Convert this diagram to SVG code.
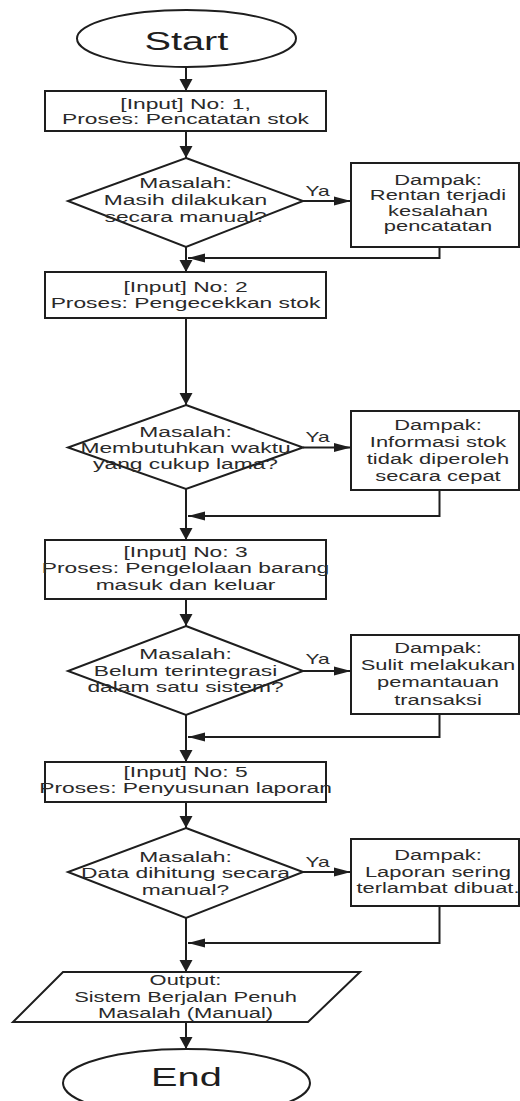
<svg xmlns="http://www.w3.org/2000/svg" width="520" height="1101" viewBox="0 0 520 1101">
<style>
.bg{fill:#ffffff}
.shape{fill:#ffffff;stroke:#1e1e1e;stroke-width:2}
.conn{fill:none;stroke:#1e1e1e;stroke-width:2}
.t{font-family:"Liberation Sans",Arial,sans-serif;font-size:15.2px;fill:#2a2a2a;text-anchor:middle}
.d{font-size:14.6px}
.ya{font-family:"Liberation Sans",Arial,sans-serif;font-size:14px;fill:#2a2a2a;text-anchor:middle}
.big{font-family:"Liberation Sans",Arial,sans-serif;font-size:26.5px;fill:#1e1e1e;text-anchor:middle}
</style>
<defs>
<marker id="av" markerUnits="userSpaceOnUse" markerWidth="12" markerHeight="14" refX="12" refY="7" orient="auto" overflow="visible">
<path d="M0,0.5 L12,7 L0,13.5 z" fill="#1e1e1e"/>
</marker>
<marker id="ah" markerUnits="userSpaceOnUse" markerWidth="17" markerHeight="9" refX="17" refY="4.5" orient="auto" overflow="visible">
<path d="M0,0 L17,4.5 L0,9 z" fill="#1e1e1e"/>
</marker>
</defs>
<rect class="bg" x="0" y="0" width="520" height="1101"/>

<g id="connectors">
<path class="conn" d="M186,67 V91" marker-end="url(#av)"/>
<path class="conn" d="M186,131 V158" marker-end="url(#av)"/>
<path class="conn" d="M303,201 H351" marker-end="url(#ah)"/>
<path class="conn" d="M439.5,247 V258 H188" marker-end="url(#ah)"/>
<path class="conn" d="M186,247 V272" marker-end="url(#av)"/>
<path class="conn" d="M186,318 V405" marker-end="url(#av)"/>
<path class="conn" d="M303,447.5 H351" marker-end="url(#ah)"/>
<path class="conn" d="M439.5,490 V516 H188" marker-end="url(#ah)"/>
<path class="conn" d="M186,489 V540" marker-end="url(#av)"/>
<path class="conn" d="M186,599 V626" marker-end="url(#av)"/>
<path class="conn" d="M303,671 H351" marker-end="url(#ah)"/>
<path class="conn" d="M439.5,714 V737 H188" marker-end="url(#ah)"/>
<path class="conn" d="M186,715 V762" marker-end="url(#av)"/>
<path class="conn" d="M186,802 V828" marker-end="url(#av)"/>
<path class="conn" d="M303,872 H351" marker-end="url(#ah)"/>
<path class="conn" d="M439.5,906 V943 H188" marker-end="url(#ah)"/>
<path class="conn" d="M186,918 V972" marker-end="url(#av)"/>
<path class="conn" d="M186,1022 V1049" marker-end="url(#av)"/>
<g transform="scale(1.5,1)">
<text class="ya" x="211.7" y="196">Ya</text>
<text class="ya" x="211.7" y="442">Ya</text>
<text class="ya" x="211.7" y="664">Ya</text>
<text class="ya" x="211.7" y="867">Ya</text>
</g>
</g>

<g id="start">
<ellipse class="shape" cx="186.5" cy="38.5" rx="109.5" ry="28.5"/>
<text class="big" transform="scale(1.5,1)" x="124.3" y="50">Start</text>
</g>

<g id="box1">
<rect class="shape" x="45" y="91" width="281" height="40"/>
<text class="t" transform="scale(1.5,1)"><tspan x="123.7" y="109">[Input] No: 1,</tspan><tspan x="123.7" y="124">Proses: Pencatatan stok</tspan></text>
</g>

<g id="dec1">
<polygon class="shape" points="186,158 303,201 186,247 68,201"/>
<text class="t" transform="scale(1.5,1)"><tspan x="123.7" y="188">Masalah:</tspan><tspan x="123.7" y="205">Masih dilakukan</tspan><tspan x="123.7" y="222">secara manual?</tspan></text>
</g>

<g id="imp1">
<rect class="shape" x="351" y="163" width="168" height="84"/>
<text class="t d" transform="scale(1.5,1)"><tspan x="292" y="185">Dampak:</tspan><tspan x="292" y="200.5">Rentan terjadi</tspan><tspan x="292" y="216">kesalahan</tspan><tspan x="292" y="231.5">pencatatan</tspan></text>
</g>

<g id="box2">
<rect class="shape" x="45" y="272" width="281" height="46"/>
<text class="t" transform="scale(1.5,1)"><tspan x="123.7" y="292.5">[Input] No: 2</tspan><tspan x="123.7" y="308">Proses: Pengecekkan stok</tspan></text>
</g>

<g id="dec2">
<polygon class="shape" points="186,405 303,447.5 186,489 68,447.5"/>
<text class="t" transform="scale(1.5,1)"><tspan x="123.7" y="437">Masalah:</tspan><tspan x="123.7" y="453">Membutuhkan waktu</tspan><tspan x="123.7" y="469">yang cukup lama?</tspan></text>
</g>

<g id="imp2">
<rect class="shape" x="351" y="411" width="168" height="79"/>
<text class="t d" transform="scale(1.5,1)"><tspan x="292" y="430">Dampak:</tspan><tspan x="292" y="447">Informasi stok</tspan><tspan x="292" y="464">tidak diperoleh</tspan><tspan x="292" y="481">secara cepat</tspan></text>
</g>

<g id="box3">
<rect class="shape" x="45" y="540" width="281" height="59"/>
<text class="t" transform="scale(1.5,1)"><tspan x="123.7" y="557">[Input] No: 3</tspan><tspan x="123.7" y="573.5">Proses: Pengelolaan barang</tspan><tspan x="123.7" y="590">masuk dan keluar</tspan></text>
</g>

<g id="dec3">
<polygon class="shape" points="186,626 303,671 186,715 68,671"/>
<text class="t" transform="scale(1.5,1)"><tspan x="123.7" y="659">Masalah:</tspan><tspan x="123.7" y="676">Belum terintegrasi</tspan><tspan x="123.7" y="692">dalam satu sistem?</tspan></text>
</g>

<g id="imp3">
<rect class="shape" x="351" y="635" width="168" height="79"/>
<text class="t d" transform="scale(1.5,1)"><tspan x="292" y="653">Dampak:</tspan><tspan x="292" y="670">Sulit melakukan</tspan><tspan x="292" y="687.5">pemantauan</tspan><tspan x="292" y="705">transaksi</tspan></text>
</g>

<g id="box5">
<rect class="shape" x="45" y="762" width="281" height="40"/>
<text class="t" transform="scale(1.5,1)"><tspan x="123.7" y="777.5">[Input] No: 5</tspan><tspan x="123.7" y="793.5">Proses: Penyusunan laporan</tspan></text>
</g>

<g id="dec4">
<polygon class="shape" points="186,828 303,872 186,918 68,872"/>
<text class="t" transform="scale(1.5,1)"><tspan x="123.7" y="862">Masalah:</tspan><tspan x="123.7" y="878">Data dihitung secara</tspan><tspan x="123.7" y="895">manual?</tspan></text>
</g>

<g id="imp4">
<rect class="shape" x="351" y="839" width="168" height="67"/>
<text class="t d" transform="scale(1.5,1)"><tspan x="292" y="860">Dampak:</tspan><tspan x="292" y="877">Laporan sering</tspan><tspan x="292" y="893.5">terlambat dibuat.</tspan></text>
</g>

<g id="output">
<polygon class="shape" points="63,972 360,972 308,1022 13,1022"/>
<text class="t d" transform="scale(1.5,1)"><tspan x="123.7" y="985">Output:</tspan><tspan x="123.7" y="1002">Sistem Berjalan Penuh</tspan><tspan x="123.7" y="1018">Masalah (Manual)</tspan></text>
</g>

<g id="end">
<ellipse class="shape" cx="186.5" cy="1083" rx="123.5" ry="34"/>
<text class="big" transform="scale(1.5,1)" x="124.3" y="1086">End</text>
</g>
</svg>
